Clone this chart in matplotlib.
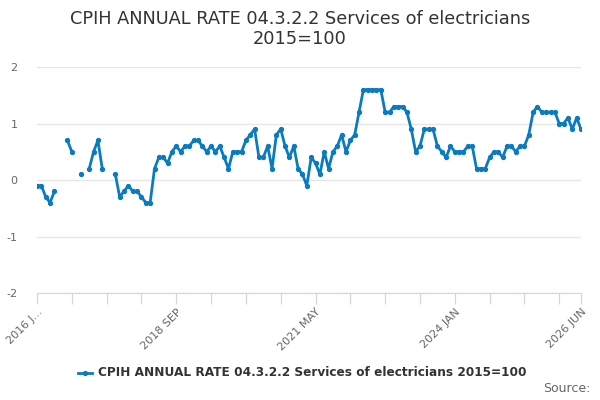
import numpy as np
import pandas as pd
import matplotlib
matplotlib.use("Agg")
import matplotlib.pyplot as plt

nan = np.nan
months = pd.date_range("2016-01-01", "2026-06-01", freq="MS")
values = [
    -0.1, -0.1, -0.3, -0.4, -0.2, nan, nan, 0.7, 0.5, nan,
    0.1, nan, 0.2, 0.5, 0.7, 0.2, nan, nan, 0.1, -0.3,
    -0.2, -0.1, -0.2, -0.2, -0.3, -0.4, -0.4, 0.2, 0.4, 0.4,
    0.3, 0.5, 0.6, 0.5, 0.6, 0.6, 0.7, 0.7, 0.6, 0.5,
    0.6, 0.5, 0.6, 0.4, 0.2, 0.5, 0.5, 0.5, 0.7, 0.8,
    0.9, 0.4, 0.4, 0.6, 0.2, 0.8, 0.9, 0.6, 0.4, 0.6,
    0.2, 0.1, -0.1, 0.4, 0.3, 0.1, 0.5, 0.2, 0.5, 0.6,
    0.8, 0.5, 0.7, 0.8, 1.2, 1.6, 1.6, 1.6, 1.6, 1.6,
    1.2, 1.2, 1.3, 1.3, 1.3, 1.2, 0.9, 0.5, 0.6, 0.9,
    0.9, 0.9, 0.6, 0.5, 0.4, 0.6, 0.5, 0.5, 0.5, 0.6,
    0.6, 0.2, 0.2, 0.2, 0.4, 0.5, 0.5, 0.4, 0.6, 0.6,
    0.5, 0.6, 0.6, 0.8, 1.2, 1.3, 1.2, 1.2, 1.2, 1.2,
    1.0, 1.0, 1.1, 0.9, 1.1, 0.9,
]
series_name = "CPIH ANNUAL RATE 04.3.2.2 Services of electricians 2015=100"
title = "CPIH ANNUAL RATE 04.3.2.2 Services of electricians\n2015=100"
yticks = [-2, -1, 0, 1, 2]
label_idx = [0, 32, 64, 96, 125]
label_text = ["2016 J...", "2018 SEP", "2021 MAY", "2024 JAN", "2026 JUN"]

color = "#0b7bc1"
x = np.arange(len(months))

fig = plt.figure(figsize=(6, 4), dpi=100)
ax = fig.add_axes([37/600, 1-293/400, (581-37)/600, (293-67)/400])
ax.plot(x, values, color=color, lw=2, marker="o", ms=2.8, zorder=3)
ax.set_xlim(0, len(months)-1)
ax.set_ylim(-2, 2)
ax.set_yticks(yticks)
ax.set_yticklabels([str(v) for v in yticks], color="#666666", fontsize=8)
ax.grid(axis="y", color="#e6e6e6", lw=1)
ax.set_axisbelow(True)
for s in ["top", "right", "left"]:
    ax.spines[s].set_visible(False)
ax.spines["bottom"].set_color("#ccd6eb")
ax.tick_params(axis="y", length=0, pad=14)

tick_pos = list(range(0, len(months), 8)) + [len(months)-1]
ax.set_xticks(tick_pos)
labels = []
for p in tick_pos:
    labels.append(label_text[label_idx.index(p)] if p in label_idx else "")
ax.set_xticklabels(labels, rotation=45, ha="right", rotation_mode="anchor",
                   color="#666666", fontsize=8)
ax.tick_params(axis="x", length=8, color="#ccd6eb", pad=2)

fig.text(0.5, 0.928, title, ha="center", va="center", fontsize=12.8, color="#333333",
         linespacing=1.15)

# legend
ly = 1 - 373/400
fig.add_artist(plt.Line2D([78/600, 92/600], [ly, ly], color=color, lw=2,
                          transform=fig.transFigure))
fig.add_artist(plt.Line2D([85/600], [ly], color=color, marker="o", ms=2.8, lw=0,
                          transform=fig.transFigure))
fig.text(98/600, ly, series_name, ha="left", va="center", fontsize=8.7,
         fontweight="bold", color="#333333")
fig.text(590/600, 1-389/400, "Source:", ha="right", va="center", fontsize=9,
         color="#666666")

fig.savefig("out.png", dpi=100)
